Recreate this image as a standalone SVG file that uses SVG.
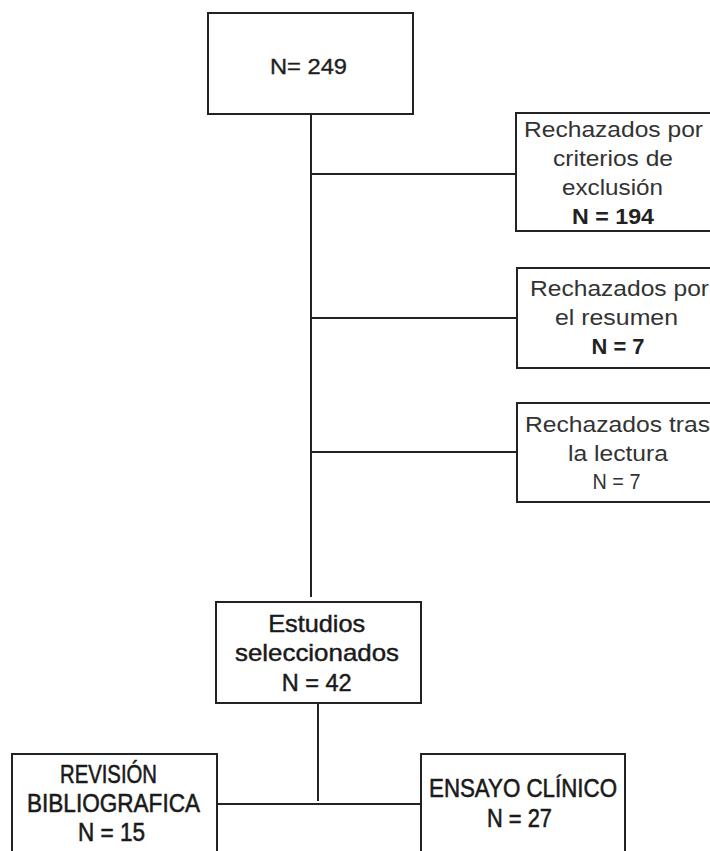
<svg xmlns="http://www.w3.org/2000/svg" width="710" height="851" viewBox="0 0 710 851">
<style>
.bg{fill:#ffffff}
.box{fill:#ffffff;stroke:#222222;stroke-width:2}
.ln{stroke:#222222;stroke-width:2;fill:none}
.t{font-family:"Liberation Sans",Arial,sans-serif;font-size:21.5px;fill:#333333;text-anchor:middle}
.b{font-weight:bold;fill:#222222}
.h{fill:#1e1e1e;stroke:#1e1e1e;stroke-width:0.35}
.n{font-family:"Liberation Sans Narrow","Liberation Sans",Arial,sans-serif;font-size:24px;fill:#1a1a1a;stroke:#1a1a1a;stroke-width:0.45;text-anchor:middle}
.n2{font-size:25px;stroke-width:0.55}
</style>
<rect class="bg" x="0" y="0" width="710" height="851"/>
<g id="connectors">
<line class="ln" x1="311" y1="114" x2="311" y2="597"/>
<line class="ln" x1="311" y1="174" x2="516" y2="174"/>
<line class="ln" x1="311" y1="318" x2="517" y2="318"/>
<line class="ln" x1="311" y1="452" x2="517" y2="452"/>
<line class="ln" x1="318" y1="703" x2="318" y2="801"/>
<line class="ln" x1="217" y1="804" x2="421" y2="804"/>
</g>
<g id="node-total">
<rect class="box" x="208" y="13" width="205" height="101"/>
<text class="t h" x="308.5" y="74" textLength="77" lengthAdjust="spacingAndGlyphs" style="font-size:22px">N= 249</text>
</g>
<g id="node-exclusion">
<rect class="box" x="516" y="113" width="210" height="118"/>
<text class="t" x="613.5" y="136.5" textLength="179" lengthAdjust="spacingAndGlyphs">Rechazados por</text>
<text class="t" x="613" y="165.5" textLength="120" lengthAdjust="spacingAndGlyphs">criterios de</text>
<text class="t" x="612.5" y="194.8" textLength="101" lengthAdjust="spacingAndGlyphs">exclusión</text>
<text class="t b" x="613" y="224" textLength="82" lengthAdjust="spacingAndGlyphs">N = 194</text>
</g>
<g id="node-resumen">
<rect class="box" x="517" y="268" width="210" height="100"/>
<text class="t" x="619.5" y="296" textLength="179" lengthAdjust="spacingAndGlyphs">Rechazados por</text>
<text class="t" x="616.5" y="324.5" textLength="123" lengthAdjust="spacingAndGlyphs">el resumen</text>
<text class="t b" x="618" y="354" textLength="53" lengthAdjust="spacingAndGlyphs">N = 7</text>
</g>
<g id="node-lectura">
<rect class="box" x="517" y="403" width="210" height="99"/>
<text class="t" x="617.5" y="432" textLength="185" lengthAdjust="spacingAndGlyphs">Rechazados tras</text>
<text class="t" x="618" y="460.5" textLength="100" lengthAdjust="spacingAndGlyphs">la lectura</text>
<text class="t" x="616.5" y="489" textLength="48" lengthAdjust="spacingAndGlyphs">N = 7</text>
</g>
<g id="node-seleccionados">
<rect class="box" x="216" y="602" width="205" height="101"/>
<text class="n" x="316.7" y="632" textLength="97" lengthAdjust="spacingAndGlyphs">Estudios</text>
<text class="n" x="317" y="660.5" textLength="164" lengthAdjust="spacingAndGlyphs">seleccionados</text>
<text class="n" x="316.7" y="691" textLength="70" lengthAdjust="spacingAndGlyphs">N = 42</text>
</g>
<g id="node-revision">
<rect class="box" x="12" y="754" width="205" height="120"/>
<text class="n n2" x="108.5" y="783" textLength="97" lengthAdjust="spacingAndGlyphs">REVISIÓN</text>
<text class="n n2" x="113.5" y="811.5" textLength="173" lengthAdjust="spacingAndGlyphs">BIBLIOGRAFICA</text>
<text class="n n2" x="111.5" y="840.5" textLength="67" lengthAdjust="spacingAndGlyphs">N = 15</text>
</g>
<g id="node-ensayo">
<rect class="box" x="421" y="754" width="204" height="120"/>
<text class="n n2" x="523" y="796.5" textLength="188" lengthAdjust="spacingAndGlyphs">ENSAYO CLÍNICO</text>
<text class="n n2" x="519.5" y="827" textLength="65" lengthAdjust="spacingAndGlyphs">N = 27</text>
</g>
</svg>
